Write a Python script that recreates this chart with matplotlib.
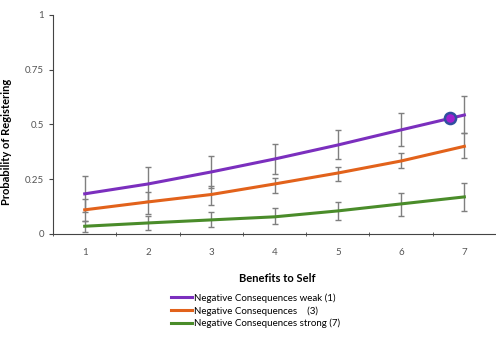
import matplotlib.pyplot as plt
from matplotlib.lines import Line2D

plt.rcParams['font.family'] = ['Lato', 'DejaVu Sans']

benefits = [1, 2, 3, 4, 5, 6, 7]
tick_labels = ['1', '2', '3', '4', '5', '6', '7']

weak = [0.183, 0.228, 0.283, 0.342, 0.406, 0.475, 0.543]
weak_lo = [0.10, 0.15, 0.21, 0.274, 0.342, 0.40, 0.46]
weak_hi = [0.265, 0.306, 0.356, 0.41, 0.475, 0.55, 0.63]

mid = [0.11, 0.146, 0.18, 0.228, 0.278, 0.333, 0.40]
mid_lo = [0.06, 0.09, 0.13, 0.187, 0.242, 0.30, 0.347]
mid_hi = [0.16, 0.19, 0.22, 0.256, 0.306, 0.37, 0.46]

strong = [0.035, 0.05, 0.064, 0.078, 0.105, 0.137, 0.169]
strong_lo = [0.01, 0.02, 0.03, 0.046, 0.064, 0.082, 0.105]
strong_hi = [0.06, 0.08, 0.10, 0.119, 0.146, 0.187, 0.233]

dot_x, dot_y = 6.77, 0.53

series = [
    ('Negative Consequences weak (1)', weak, weak_lo, weak_hi, '#7b2fbe'),
    ('Negative Consequences    (3)', mid, mid_lo, mid_hi, '#e2621b'),
    ('Negative Consequences strong (7)', strong, strong_lo, strong_hi, '#4a8c2a'),
]

fig = plt.figure(figsize=(4.96, 3.39), dpi=100)
ax = fig.add_axes([0.107, 0.31, 0.893, 0.646])

handles = []
for name, vals, lo, hi, col in series:
    err = [[v - l for v, l in zip(vals, lo)], [h - v for v, h in zip(vals, hi)]]
    ax.errorbar(benefits, vals, yerr=err, fmt='none', ecolor='#7f7f7f',
                elinewidth=1.0, capsize=2.5, capthick=1.0, zorder=2)
    ax.plot(benefits, vals, color=col, lw=2.2, zorder=3)
    handles.append(Line2D([], [], color=col, lw=2.2, label=name))

ax.plot([dot_x], [dot_y], 'o', ms=8, mfc='#a020d0', mec='#2f4f9f', mew=1.8, zorder=4)

ax.set_xlim(0.5, 7.5)
ax.set_ylim(0, 1)
ax.set_xticks(benefits)
ax.set_xticklabels(tick_labels)
ax.set_xticks([b + 0.5 for b in [0] + benefits], minor=True)
ax.tick_params(axis='x', which='major', length=0, pad=10, labelsize=7, labelcolor='#555555')
ax.tick_params(axis='x', which='minor', length=3, direction='inout', color='#444444')
ax.set_yticks([0, 0.25, 0.5, 0.75, 1])
ax.set_yticklabels(['0', '0.25', '0.5', '0.75', '1'])
ax.tick_params(axis='y', length=3, labelsize=7, labelcolor='#555555', color='#444444')
for s in ['top', 'right']:
    ax.spines[s].set_visible(False)
for s in ['left', 'bottom']:
    ax.spines[s].set_color('#444444')

ax.set_ylabel('Probability of Registering', fontsize=8, fontweight='bold')
ax.yaxis.set_label_coords(-0.093, 0.42)
ax.set_xlabel('Benefits to Self', fontsize=8, fontweight='bold')
ax.xaxis.set_label_coords(0.505, -0.18)

fig.legend(handles=handles, loc='upper left', bbox_to_anchor=(0.335, 0.15),
           frameon=False, fontsize=7, handlelength=2.2, handletextpad=0.2,
           labelspacing=0.35, borderpad=0)

fig.savefig('out.png', dpi=100)
